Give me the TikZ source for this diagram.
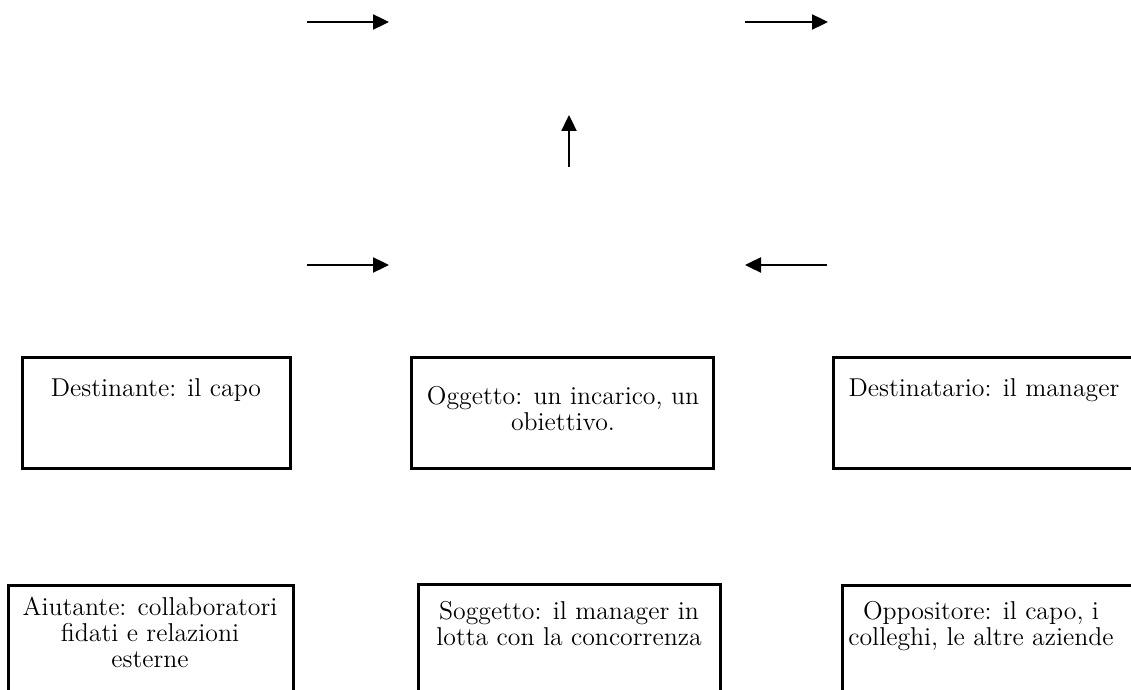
\documentclass[tikz,border=0pt]{standalone}
\usepackage{tikz}
\usetikzlibrary{arrows.meta,positioning,calc}

\tikzset{
  box/.style={draw,line width=1.5pt,inner sep=0pt},
  txt/.style={align=center,inner sep=0pt,font=\fontsize{12.9}{13}\selectfont},
  arr/.style={line width=1.2pt,-{Triangle[length=8pt,width=7.5pt]}}
}

\begin{document}
\begin{tikzpicture}[x=0.5pt,y=-0.5pt]
    \useasboundingbox (0,0) rectangle (1131,690);
    \clip (0,0) rectangle (1131,690);

    % boxes
    \node [box,minimum width=134pt,minimum height=55.5pt] (dest) at (156,412.5) {};
    \node [box,minimum width=151pt,minimum height=55.5pt] (ogg) at (562,412.5) {};
    \node [box,minimum width=153pt,minimum height=55.5pt] (dtar) at (986.5,412.5) {};
    \node [box,minimum width=142.5pt,minimum height=62.5pt] (aiut) at (150.5,647.5) {};
    \node [box,minimum width=151pt,minimum height=63pt] (sogg) at (569,647) {};
    \node [box,minimum width=149pt,minimum height=62.5pt] (oppo) at (991,647.5) {};

    % texts
    \node [txt] (destT) at (156,390) {Destinante: il capo};
    \node [txt] (oggT) at (563,409) {Oggetto: un incarico, un\\obiettivo.};
    \node [txt] (dtarT) at (984,390) {Destinatario: il manager};
    \node [txt] (aiutT) at (150,632) {Aiutante: collaboratori\\fidati e relazioni\\esterne};
    \node [txt] (soggT) at (569,624) {Soggetto: il manager in\\lotta con la concorrenza};
    \node [txt] (oppoT) at (981,626.5) {Oppositore: il capo, i\\colleghi, le altre aziende};

    % arrows
    \coordinate (a1) at (307,22);  \coordinate (b1) at (389,22);
    \coordinate (a2) at (745,22);  \coordinate (b2) at (828,22);
    \coordinate (a3) at (569,167); \coordinate (b3) at (569,115);
    \coordinate (a4) at (307,265); \coordinate (b4) at (389,265);
    \coordinate (a5) at (827,265); \coordinate (b5) at (745,265);
    \draw [arr] (a1) -- (b1);
    \draw [arr] (a2) -- (b2);
    \draw [arr] (a3) -- (b3);
    \draw [arr] (a4) -- (b4);
    \draw [arr] (a5) -- (b5);
\end{tikzpicture}
\end{document}
